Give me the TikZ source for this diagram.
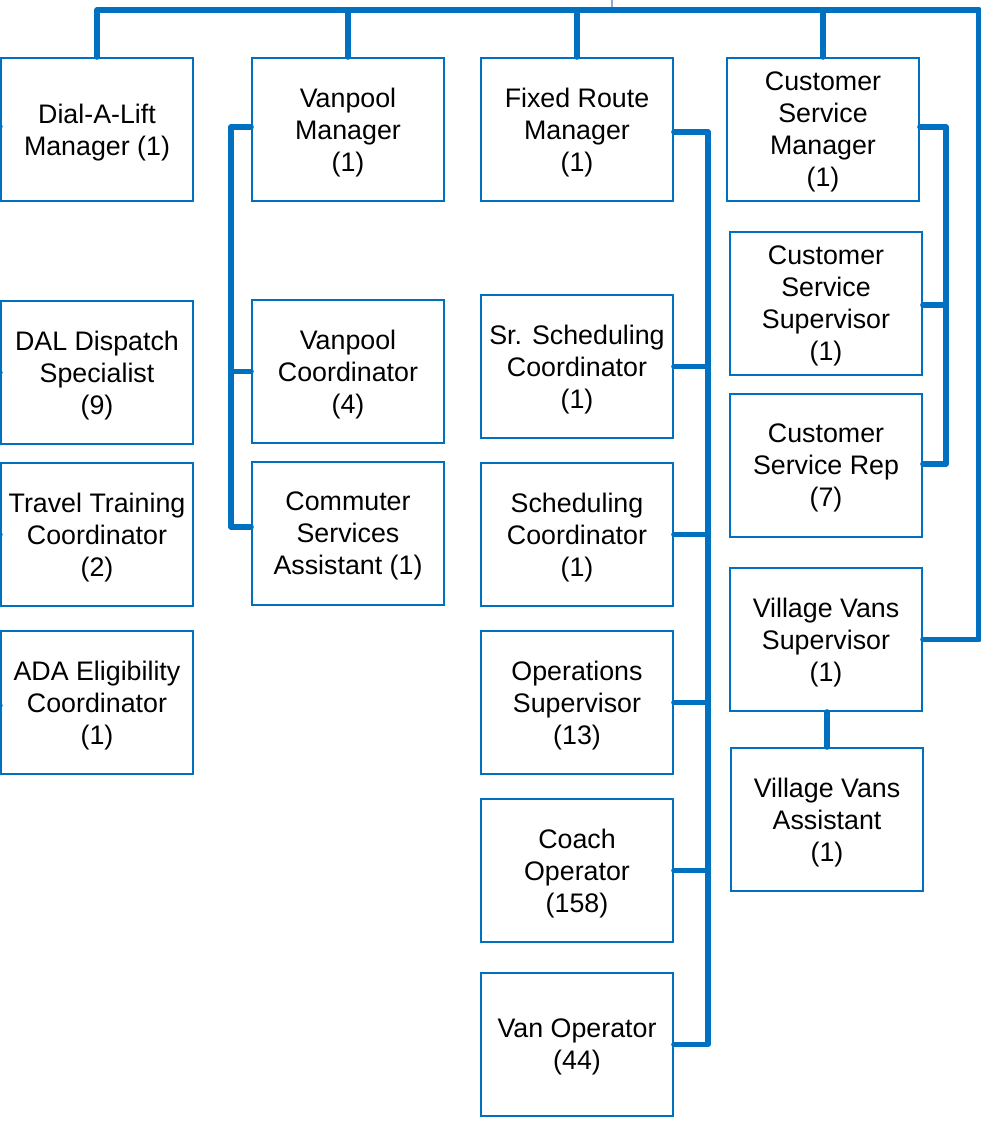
\documentclass[tikz,border=0pt]{standalone}
\usepackage{fontspec}
\setmainfont{Liberation Sans}
\definecolor{orgblue}{HTML}{0070C0}
\definecolor{thinblue}{HTML}{8EA9DB}
\begin{document}
\begin{tikzpicture}[x=1pt,y=-1pt,
  box/.style={draw=orgblue, line width=1.6pt, rectangle, minimum width=192pt, minimum height=143pt,
    align=center, inner sep=0pt, text=black, font=\fontsize{26.8}{32}\selectfont,
    text depth=-1.5pt},
  link/.style={draw=orgblue, line width=5.2pt, line cap=round, line join=round},
  thinlink/.style={draw=thinblue, line width=1.2pt},
  enddot/.style={fill=orgblue}]
\useasboundingbox (0,0) rectangle (981,1121);

% column 1
\node[box] (dal) at (97,129.5) {Dial-A-Lift\\Manager (1)};
\node[box] (dds) at (97,372.5) {DAL Dispatch\\Specialist\\(9)};
\node[box] (ttc) at (97,534.5) {Travel Training\\Coordinator\\(2)};
\node[box] (ada) at (97,702.5) {ADA Eligibility\\Coordinator\\(1)};
% column 2
\node[box] (vm) at (348,129.5) {Vanpool\\Manager\\(1)};
\node[box] (vc) at (348,371.5) {Vanpool\\Coordinator\\(4)};
\node[box] (csa) at (348,533.5) {Commuter\\Services\\Assistant (1)};
% column 3
\node[box] (frm) at (577,129.5) {Fixed Route\\Manager\\(1)};
\node[box] (ssc) at (577,366.5) {Sr. Scheduling\\Coordinator\\(1)};
\node[box] (sc) at (577,534.5) {Scheduling\\Coordinator\\(1)};
\node[box] (os) at (577,702.5) {Operations\\Supervisor\\(13)};
\node[box] (co) at (577,870.5) {Coach\\Operator\\(158)};
\node[box] (vo) at (577,1044.5) {Van Operator\\(44)};
% column 4
\node[box] (csm) at (823,129.5) {Customer\\Service\\Manager\\(1)};
\node[box] (css) at (826,303.5) {Customer\\Service\\Supervisor\\(1)};
\node[box] (csr) at (826,465.5) {Customer\\Service Rep\\(7)};
\node[box] (vvs) at (826,639.5) {Village Vans\\Supervisor\\(1)};
\node[box] (vva) at (827,819.5) {Village Vans\\Assistant\\(1)};

% helper coordinates
\coordinate (busR) at (979,10);
\coordinate (top) at (612,0);
\coordinate (vpx) at (231,0);
\coordinate (frx) at (708,0);
\coordinate (csx) at (946,0);
\coordinate (vmW) at ([yshift=2.5pt]vm.west);
\coordinate (csaW) at ([yshift=6.5pt]csa.west);
\coordinate (frmE) at ([yshift=-2.5pt]frm.east);
\coordinate (csmE) at ([yshift=2.5pt]csm.east);
\coordinate (cssE) at ([yshift=-1.5pt]css.east);
\coordinate (csrE) at ([yshift=1.5pt]csr.east);

% top bus
\draw[thinlink] (top) -- (top |- busR);
\draw[link] (dal.north) |- (busR) -- (busR |- vvs.east) -- (vvs.east);
\draw[link] (vm.north) -- (vm.north |- busR);
\draw[link] (frm.north) -- (frm.north |- busR);
\draw[link] (csm.north) -- (csm.north |- busR);

% vanpool
\draw[link] (vmW) -- (vmW -| vpx) -- (csaW -| vpx) -- (csaW);
\draw[link] (vc.west) -- (vc.west -| vpx);

% fixed route
\draw[link] (frmE) -| (vo.east -| frx) -- (vo.east);
\draw[link] (ssc.east) -- (ssc.east -| frx);
\draw[link] (sc.east) -- (sc.east -| frx);
\draw[link] (os.east) -- (os.east -| frx);
\draw[link] (co.east) -- (co.east -| frx);

% customer service
\draw[link] (csmE) -| (csrE -| csx) -- (csrE);
\draw[link] (cssE) -- (cssE -| csx);

% village vans
\draw[link] (vva.north |- vvs.south) -- (vva.north);

% stub dots on left edge
\fill[enddot] ([yshift=3pt]dal.west) circle (2.5);
\fill[enddot] (dds.west) circle (2.5);
\fill[enddot] (ttc.west) circle (2.5);
\fill[enddot] ([yshift=-3pt]ada.west) circle (2.5);
\end{tikzpicture}
\end{document}
